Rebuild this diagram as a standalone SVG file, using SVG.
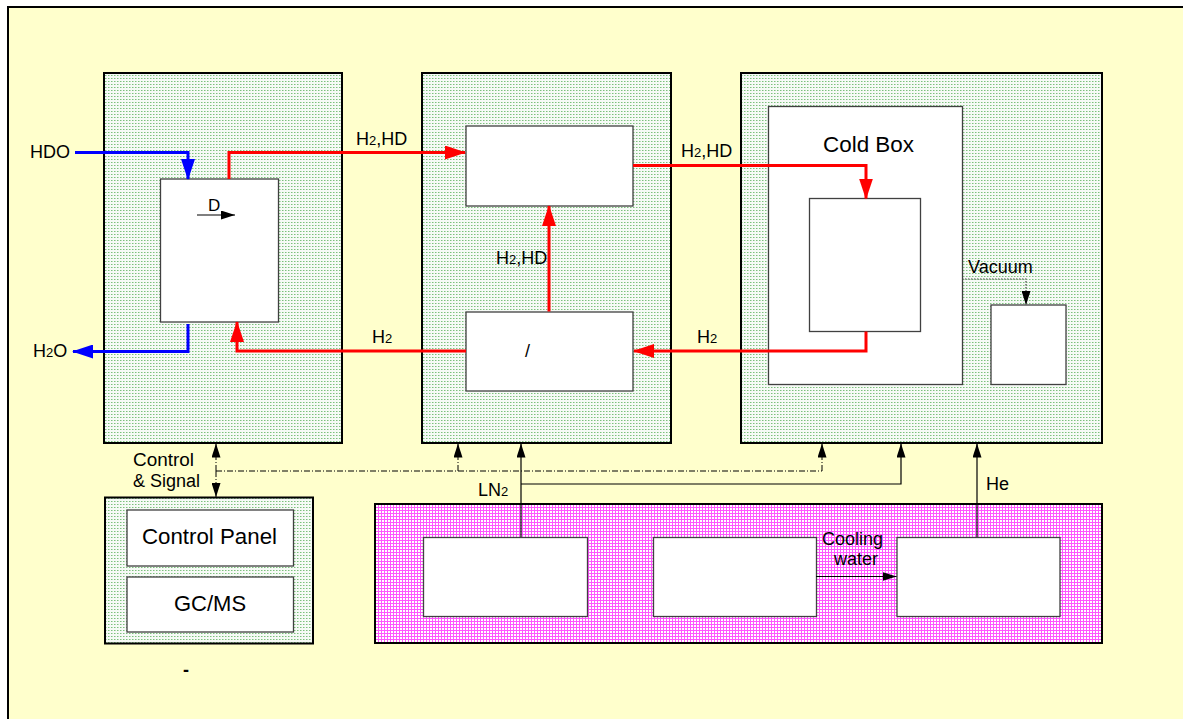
<svg xmlns="http://www.w3.org/2000/svg" width="1183" height="719" viewBox="0 0 1183 719">
<style>
.t{font-family:"Liberation Sans",Arial,sans-serif;fill:#000}
.s18{font-size:18px}
.s22{font-size:22px}
.panel{fill:url(#green);stroke:#000;stroke-width:2}
.pink{fill:url(#pink);stroke:#000;stroke-width:2}
.box{fill:#fff;stroke:#404040;stroke-width:1.3}
.red{fill:none;stroke:#ff0000;stroke-width:3}
.blue{fill:none;stroke:#0000ff;stroke-width:3}
.blk{fill:none;stroke:#000;stroke-width:1.2}
.dd{fill:none;stroke:#000;stroke-width:1;stroke-dasharray:6 2 1 2}
.dot{fill:none;stroke:#444;stroke-width:1.2;stroke-dasharray:1.5 1.5}
</style>
<defs>
<pattern id="green" width="3" height="3" patternUnits="userSpaceOnUse">
<rect width="3" height="3" fill="#f6faf6"/>
<rect x="0" y="0" width="1.5" height="1" fill="#7cc07c"/>
</pattern>
<pattern id="pink" width="3" height="3" patternUnits="userSpaceOnUse">
<rect width="3" height="3" fill="#ffffff"/>
<rect x="0" y="0" width="3" height="1" fill="#ff55ff"/>
<rect x="0" y="0" width="1" height="3" fill="#ff55ff"/>
</pattern>
<marker id="aR" markerUnits="userSpaceOnUse" markerWidth="21" markerHeight="14" refX="20" refY="7" orient="auto"><path d="M0,0 L21,7 L0,14 z" fill="#ff0000"/></marker>
<marker id="aB" markerUnits="userSpaceOnUse" markerWidth="21" markerHeight="14" refX="20" refY="7" orient="auto"><path d="M0,0 L21,7 L0,14 z" fill="#0000ff"/></marker>
<marker id="aK" markerUnits="userSpaceOnUse" markerWidth="14" markerHeight="9" refX="14" refY="4.5" orient="auto"><path d="M0,0 L14,4.5 L0,9 z" fill="#000"/></marker>
</defs>
<rect x="0" y="0" width="1183" height="719" fill="#fff"/>
<rect x="8" y="7" width="1200" height="800" fill="#ffffcc" stroke="#000" stroke-width="2"/>

<g id="separator">
<rect class="panel" x="104" y="73" width="238" height="370"/>
<rect class="box" x="160.5" y="179" width="118" height="143"/>
<text class="t" style="font-size:17px" x="208" y="211">D</text>
</g>
<g id="purifier">
<rect class="panel" x="422" y="73" width="249" height="370"/>
<rect id="upper-box" class="box" x="466" y="126" width="167" height="80"/>
<rect id="lower-box" class="box" x="466" y="312" width="167" height="79"/>
<text class="t s18" x="525" y="357">/</text>
</g>
<g id="cryo">
<rect class="panel" x="741" y="73" width="361" height="370"/>
<rect id="cold-box" class="box" x="768.5" y="106.5" width="194" height="278"/>
<text class="t s22" x="823" y="152" textLength="91" lengthAdjust="spacingAndGlyphs">Cold Box</text>
<rect id="column" class="box" x="809.5" y="198.5" width="111" height="133"/>
<rect id="vacuum-pump" class="box" x="991" y="305" width="75" height="79.5"/>
</g>
<g id="control">
<rect class="panel" x="105" y="497.5" width="208" height="146"/>
<rect class="box" x="127" y="510" width="166.5" height="56"/>
<text class="t s22" x="142" y="544" textLength="135" lengthAdjust="spacingAndGlyphs">Control Panel</text>
<rect class="box" x="127" y="577" width="166.5" height="55"/>
<text class="t s22" x="210" y="611" text-anchor="middle">GC/MS</text>
</g>
<g id="utilities">
<rect class="pink" x="375" y="504" width="727" height="139"/>
<rect class="box" x="423.5" y="537.5" width="164" height="79"/>
<rect class="box" x="653.5" y="537.5" width="163" height="79"/>
<rect class="box" x="897" y="537.5" width="163" height="79"/>
</g>

<g id="connectors">
<path class="blue" d="M75,152.5 H188 V179" marker-end="url(#aB)"/>
<path class="blue" d="M188,324 V351.5 H73" marker-end="url(#aB)"/>
<path class="red" d="M229,179 V152.5 H465" marker-end="url(#aR)"/>
<path class="red" d="M633,165.5 H866 V198.5" marker-end="url(#aR)"/>
<path class="red" d="M549,311.5 V206" marker-end="url(#aR)"/>
<path class="red" d="M866,331.5 V351 H634" marker-end="url(#aR)"/>
<path class="red" d="M466,351 H237 V322" marker-end="url(#aR)"/>
<path class="blk" d="M197,215 H235" marker-end="url(#aK)"/>
<path class="dot" d="M962,279 H1026 V305" marker-end="url(#aK)"/>
<path class="dd" d="M216,471 V443.5" marker-end="url(#aK)"/>
<path class="dd" d="M216,471 V497" marker-end="url(#aK)"/>
<path class="dd" d="M216,471 H822"/>
<path class="dd" d="M458,471 V443.5" marker-end="url(#aK)"/>
<path class="dd" d="M822,471 V443.5" marker-end="url(#aK)"/>
<path class="blk" d="M521,537 V443.5" marker-end="url(#aK)"/>
<path class="blk" d="M521,484 H901 V443.5" marker-end="url(#aK)"/>
<path class="blk" d="M977,537 V443.5" marker-end="url(#aK)"/>
<path class="blk" d="M816,576.5 H896.5" marker-end="url(#aK)"/>
</g>

<g id="labels">
<text class="t s18" x="30" y="158">HDO</text>
<text class="t s18" x="33" y="357">H<tspan style="font-size:13px">2</tspan>O</text>
<text class="t s18" x="356" y="145">H<tspan style="font-size:13px">2</tspan>,HD</text>
<text class="t s18" x="681" y="157">H<tspan style="font-size:13px">2</tspan>,HD</text>
<text class="t s18" x="496" y="264">H<tspan style="font-size:13px">2</tspan>,HD</text>
<text class="t s18" x="372" y="343">H<tspan style="font-size:13px">2</tspan></text>
<text class="t s18" x="697" y="343">H<tspan style="font-size:13px">2</tspan></text>
<text class="t s18" x="968" y="273">Vacuum</text>
<text class="t s18" x="133" y="466" textLength="61" lengthAdjust="spacingAndGlyphs">Control</text>
<text class="t s18" x="133" y="487">&amp; Signal</text>
<text class="t s18" x="478" y="496">LN<tspan style="font-size:13px">2</tspan></text>
<text class="t s18" x="986" y="490">He</text>
<text class="t s18" x="822" y="545">Cooling</text>
<text class="t s18" x="834" y="565">water</text>
<text class="t" style="font-size:18px;font-weight:bold" x="183" y="676">-</text>
</g>
</svg>
